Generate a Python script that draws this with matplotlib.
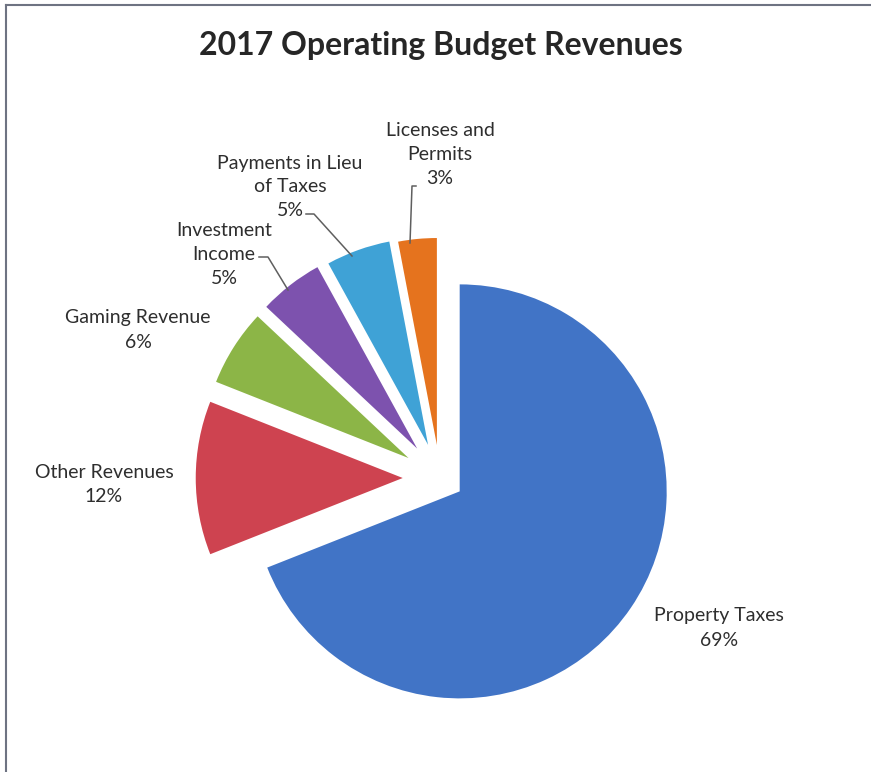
# 2017 operating budget revenues - exploded pie

import numpy as np
import matplotlib.pyplot as plt
from matplotlib.lines import Line2D

categories = ['Property Taxes', 'Other Revenues', 'Gaming Revenue',
              'Investment Income', 'Payments in Lieu of Taxes', 'Licenses and Permits']
shares = [69, 12, 6, 5, 5, 3]
label_text = ['Property Taxes', 'Other Revenues', 'Gaming Revenue',
              'Investment\nIncome', 'Payments in Lieu\nof Taxes', 'Licenses and\nPermits']
colors = ['#4174C6', '#CE4350', '#8CB547', '#7D52AE', '#3FA2D6', '#E5731E']
explode = [0.115, 0.18, 0.18, 0.18, 0.17, 0.16]

W, H = 871, 772
cx, cy, R = 440, 478, 207   # pie centre and radius in pixels

def px(x, y):
    # pixel position -> data coords
    return (x - cx) / R, (cy - y) / R

plt.rcParams['font.family'] = ['Lato', 'DejaVu Sans']

fig = plt.figure(figsize=(W / 100, H / 100), dpi=100)
ax = fig.add_axes([0, 0, 1, 1])

ax.pie(shares, colors=colors, explode=explode, startangle=90, counterclock=False,
       radius=1, wedgeprops=dict(linewidth=0))

x0, y0 = px(0, H)
x1, y1 = px(W, 0)
ax.set_xlim(x0, x1)
ax.set_ylim(y0, y1)
ax.set_aspect('auto')
ax.axis('off')

# label centres (pixels)
label_pos = [(719, 628), (104, 485), (138, 330), (224, 254), (290, 187), (440, 154)]
for name, val, (lx, ly) in zip(label_text, shares, label_pos):
    ax.text(*px(lx, ly), f'{name}\n{val}%', ha='center', va='center',
            fontsize=14, color='#2E2E2E', linespacing=1.5)

# leader lines
leaders = [
    [(416, 186), (412, 186), (410, 243)],
    [(306, 214), (314, 214), (352, 256)],
    [(259, 257), (268, 257), (288, 290)],
]
for pts in leaders:
    xs, ys = zip(*[px(x, y) for x, y in pts])
    ax.plot(xs, ys, color='#5F5F5F', lw=1.1)

ax.text(*px(441, 45), '2017 Operating Budget Revenues', ha='center', va='center',
        fontsize=23, fontweight='bold', color='#262626')

# chart frame
fig.add_artist(Line2D([6 / W, 1], [1 - 5 / H, 1 - 5 / H], transform=fig.transFigure,
                      color='#6E7382', lw=1.5))
fig.add_artist(Line2D([6 / W, 6 / W], [0, 1 - 5 / H], transform=fig.transFigure,
                      color='#6E7382', lw=1.5))

fig.savefig('out.png', dpi=100)
